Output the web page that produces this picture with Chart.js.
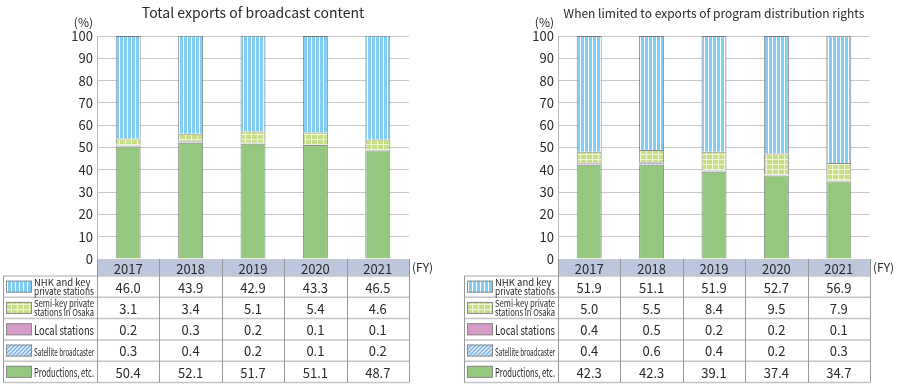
<!DOCTYPE html>
<html>
<head>
<meta charset="utf-8">
<script src="https://cdn.jsdelivr.net/npm/chart.js@4"></script>
<style>
  html, body { margin: 0; padding: 0; background: #fff; overflow: hidden; }
  .wrap { position: absolute; top: 0; }
</style>
</head>
<body>
<div class="wrap" style="left:0"><canvas id="totalChart" width="450" height="384"></canvas></div>
<div class="wrap" style="left:461px"><canvas id="rightsChart" width="445" height="384"></canvas></div>
<script>
// categories
const years = ['2017', '2018', '2019', '2020', '2021'];
const seriesNames = ['NHK and key private stations', 'Semi-key private stations in Osaka', 'Local stations', 'Satellite broadcaster', 'Productions, etc.'];
const legendLines = [['NHK and key', 'private stations'], ['Semi-key private', 'stations in Osaka'], ['Local stations'], ['Satellite broadcaster'], ['Productions, etc.']];
const yTicks = [0, 10, 20, 30, 40, 50, 60, 70, 80, 90, 100];

// total exports of broadcast content (%)
const totalNhk   = [46.0, 43.9, 42.9, 43.3, 46.5];
const totalSemi  = [3.1, 3.4, 5.1, 5.4, 4.6];
const totalLocal = [0.2, 0.3, 0.2, 0.1, 0.1];
const totalSat   = [0.3, 0.4, 0.2, 0.1, 0.2];
const totalProd  = [50.4, 52.1, 51.7, 51.1, 48.7];

// program distribution rights only (%)
const rightsNhk   = [51.9, 51.1, 51.9, 52.7, 56.9];
const rightsSemi  = [5.0, 5.5, 8.4, 9.5, 7.9];
const rightsLocal = [0.4, 0.5, 0.2, 0.2, 0.1];
const rightsSat   = [0.4, 0.6, 0.4, 0.2, 0.3];
const rightsProd  = [42.3, 42.3, 39.1, 37.4, 34.7];

const FONT = "'Noto Sans CJK JP', 'Noto Sans', sans-serif";
const NUMFONT = "'Noto Sans CJK JP', 'Noto Sans', sans-serif";
const TEXT = '#2a2a2a';

function makePattern(kind) {
  const c = document.createElement('canvas');
  const g = c.getContext('2d');
  if (kind === 'vstripe') {
    c.width = 4; c.height = 4;
    g.fillStyle = '#82cdf3'; g.fillRect(0, 0, 4, 4);
    g.fillStyle = '#ffffff'; g.fillRect(3, 0, 1, 4);
  } else if (kind === 'grid') {
    c.width = 6; c.height = 5;
    g.fillStyle = '#c8de88'; g.fillRect(0, 0, 6, 5);
    g.fillStyle = '#eef6d6'; g.fillRect(5, 0, 1, 5); g.fillRect(0, 4, 6, 1);
  } else if (kind === 'diag') {
    c.width = 4; c.height = 4;
    g.fillStyle = '#e4effa'; g.fillRect(0, 0, 4, 4);
    g.strokeStyle = '#78aee2'; g.lineWidth = 1.3;
    g.beginPath(); g.moveTo(-1, 5); g.lineTo(5, -1); g.stroke();
    g.beginPath(); g.moveTo(-1, 1); g.lineTo(1, -1); g.stroke();
    g.beginPath(); g.moveTo(3, 5); g.lineTo(5, 3); g.stroke();
  }
  return g.createPattern(c, 'repeat');
}

// fills in table row order
const fills = [makePattern('vstripe'), makePattern('grid'), '#d69bc8', makePattern('diag'), '#95c87f'];
const BORDER = 'rgba(80,80,80,0.65)';

const dataTable = {
  id: 'dataTable',
  beforeDraw(chart) {
    const { ctx, chartArea: a } = chart;
    ctx.save();
    ctx.fillStyle = '#bcc7de';
    ctx.fillRect(a.left, a.bottom, a.width, 17);
    ctx.restore();
  },
  afterDraw(chart, args, opts) {
    const { ctx, chartArea: a, scales: { x } } = chart;
    const n = years.length;
    const colW = a.width / n;
    const headBot = a.bottom + 17;
    const rowH = (chart.height - 1.5 - headBot) / opts.rows.length;
    const legLeft = a.left - 94;
    ctx.save();

    // row lines
    ctx.strokeStyle = '#c4c4c4';
    ctx.lineWidth = 1.5;
    for (let i = 0; i <= opts.rows.length; i++) {
      const y = headBot + i * rowH;
      ctx.beginPath(); ctx.moveTo(legLeft, y); ctx.lineTo(a.right, y); ctx.stroke();
    }
    // column lines
    ctx.strokeStyle = '#9a9a9a';
    ctx.lineWidth = 1;
    ctx.beginPath(); ctx.moveTo(legLeft + 0.5, headBot); ctx.lineTo(legLeft + 0.5, chart.height - 1.5); ctx.stroke();
    for (let j = 0; j <= n; j++) {
      const xx = Math.round(a.left + j * colW) + 0.5;
      ctx.beginPath(); ctx.moveTo(xx, a.bottom); ctx.lineTo(xx, chart.height - 1.5); ctx.stroke();
    }

    // values
    ctx.fillStyle = TEXT;
    ctx.font = '13px ' + NUMFONT;
    ctx.textAlign = 'center';
    ctx.textBaseline = 'middle';
    opts.rows.forEach((row, r) => {
      const yMid = headBot + (r + 0.5) * rowH + 1;
      row.forEach((v, c) => ctx.fillText(v.toFixed(1), x.getPixelForValue(c), yMid));
    });

    // legend column
    legendLines.forEach((lines, r) => {
      const yMid = headBot + (r + 0.5) * rowH;
      ctx.fillStyle = fills[r];
      ctx.fillRect(legLeft + 3, yMid - 6, 26, 12);
      ctx.strokeStyle = '#8a8a8a';
      ctx.strokeRect(legLeft + 3.5, yMid - 5.5, 25, 11);
      ctx.fillStyle = TEXT;
      ctx.textAlign = 'left';
      const tx = legLeft + 31;
      const maxW = a.left - tx - 3;
      if (lines.length === 2) {
        ctx.font = '9.5px ' + NUMFONT;
        ctx.fillText(lines[0], tx, yMid - 4.5, maxW);
        ctx.fillText(lines[1], tx, yMid + 4.5, maxW);
      } else {
        ctx.font = (r === 2 ? '13px ' : r === 3 ? '11px ' : '12px ') + NUMFONT;
        ctx.fillText(lines[0], tx, yMid + 1, maxW);
      }
    });

    // titles and units
    ctx.fillStyle = TEXT;
    ctx.textAlign = 'center';
    ctx.font = opts.titleSize + 'px ' + FONT;
    ctx.fillText(opts.title, (a.left + a.right) / 2, 13);
    ctx.font = '12px ' + FONT;
    ctx.textAlign = 'right';
    ctx.fillText('(%)', a.left - 4, 22);
    ctx.textAlign = 'left';
    ctx.fillText('(FY)', a.right + 3, a.bottom + 8);
    ctx.restore();
  }
};

function buildChart(id, title, titleSize, nhk, semi, local, sat, prod, padRight) {
  const stackOrder = [prod, sat, local, semi, nhk];
  const fillOrder = [4, 3, 2, 1, 0];
  return new Chart(document.getElementById(id), {
    type: 'bar',
    data: {
      labels: years,
      datasets: stackOrder.map((d, i) => ({
        label: seriesNames[fillOrder[i]],
        data: d,
        backgroundColor: fills[fillOrder[i]],
        borderColor: BORDER,
        borderWidth: 1,
        categoryPercentage: 1,
        barPercentage: 0.4
      }))
    },
    options: {
      responsive: false,
      animation: false,
      devicePixelRatio: 1,
      layout: { padding: { top: 36, right: padRight, left: 0, bottom: 0 } },
      plugins: {
        legend: { display: false },
        tooltip: { enabled: false },
        dataTable: { title: title, titleSize: titleSize, rows: [nhk, semi, local, sat, prod] }
      },
      scales: {
        x: {
          stacked: true,
          grid: { display: false, drawTicks: false },
          border: { display: false },
          ticks: { color: TEXT, font: { family: NUMFONT, size: 13 }, padding: 2, maxRotation: 0 },
          afterFit(s) { s.height = 125; }
        },
        y: {
          stacked: true,
          min: yTicks[0],
          max: yTicks[yTicks.length - 1],
          afterBuildTicks(s) { s.ticks = yTicks.map(v => ({ value: v })); },
          grid: { color: '#cacaca', lineWidth: 1, drawTicks: false },
          border: { color: '#b8b8b8' },
          ticks: { color: TEXT, font: { family: NUMFONT, size: 13 }, padding: 4 },
          afterFit(s) { s.width = 97; }
        }
      }
    },
    plugins: [dataTable]
  });
}

buildChart('totalChart', 'Total exports of broadcast content', 14, totalNhk, totalSemi, totalLocal, totalSat, totalProd, 41);
buildChart('rightsChart', 'When limited to exports of program distribution rights', 12, rightsNhk, rightsSemi, rightsLocal, rightsSat, rightsProd, 36);
</script>
</body>
</html>
